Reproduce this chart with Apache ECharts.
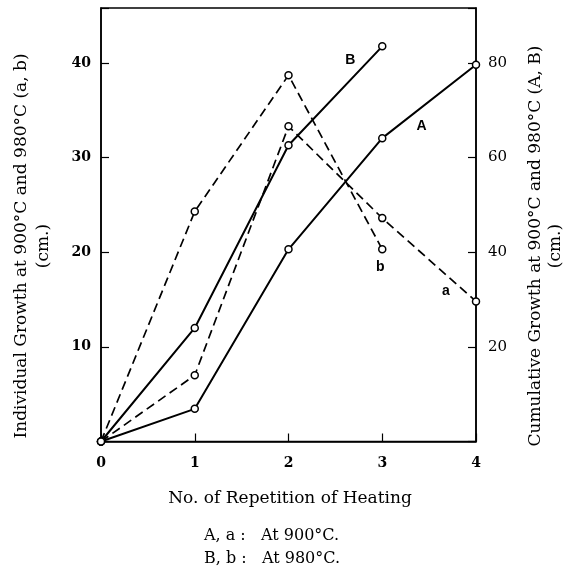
<!DOCTYPE html>
<html>
<head>
<meta charset="utf-8">
<script src="https://cdn.jsdelivr.net/npm/echarts@6/dist/echarts.min.js"></script>
<style>html,body{margin:0;padding:0;background:#fff;}#c{width:576px;height:576px;}</style>
</head>
<body>
<div id="c"></div>
<script>
// Data
var repetitions = [0, 1, 2, 3, 4];
// Individual growth (left axis, cm)
var indiv900_a = [0, 7.0, 33.3, 23.6, 14.8];
var indiv980_b = [0, 24.3, 38.7, 20.3];
// Cumulative growth (right axis, cm)
var cumul900_A = [0, 6.9, 40.6, 64.1, 79.6];
var cumul980_B = [0, 24.0, 62.6, 83.5];
var leftTicks = [10, 20, 30, 40];
var rightTicks = [20, 40, 60, 80];
var leftMax = 45.8, rightMax = 91.6;

function pairs(ys) { return ys.map(function (v, i) { return [repetitions[i], v]; }); }

var serif = 'DejaVu Serif';
var chart = echarts.init(document.getElementById('c'), null, { renderer: 'canvas' });

function lineSeries(name, data, yIdx, dashed, lbl) {
  return {
    name: name, type: 'line', yAxisIndex: yIdx, data: pairs(data),
    symbol: 'circle', symbolSize: 7,
    itemStyle: { color: '#fff', borderColor: '#000', borderWidth: 1.5 },
    lineStyle: { color: '#000', width: dashed ? 1.7 : 2, type: dashed ? [9, 5] : 'solid' },
    animation: false, z: 3,
    markPoint: {
      symbol: 'circle', symbolSize: 0, silent: true,
      label: { show: true, formatter: lbl.text, color: '#000', fontFamily: 'Liberation Sans', fontWeight: 'bold', fontSize: 14, position: 'inside' },
      data: [{ coord: lbl.coord }]
    }
  };
}

var option = {
  backgroundColor: '#fff',
  animation: false,
  grid: { left: 101, right: 100, top: 8, bottom: 134.5, show: true, borderColor: '#000', borderWidth: 1.5 },
  xAxis: {
    type: 'value', min: 0, max: 4, interval: 1,
    axisLine: { show: true, lineStyle: { color: '#000', width: 1.5 } },
    axisTick: { show: true, inside: true, length: 8, lineStyle: { color: '#000', width: 1.2 } },
    axisLabel: { color: '#000', fontFamily: serif, fontWeight: 'bold', fontSize: 14, margin: 15 },
    splitLine: { show: false }
  },
  yAxis: [
    {
      type: 'value', min: 0, max: leftMax, interval: 10, position: 'left',
      axisLine: { show: true, lineStyle: { color: '#000', width: 1.5 } },
      axisTick: { show: true, inside: true, length: 8, lineStyle: { color: '#000', width: 1.2 } },
      axisLabel: { color: '#000', fontFamily: serif, fontWeight: 'bold', fontSize: 14, margin: 10,
        formatter: function (v) { return leftTicks.indexOf(v) >= 0 ? String(v) : ''; } },
      splitLine: { show: false }
    },
    {
      type: 'value', min: 0, max: rightMax, interval: 20, position: 'right',
      axisLine: { show: true, lineStyle: { color: '#000', width: 1.5 } },
      axisTick: { show: true, inside: true, length: 8, lineStyle: { color: '#000', width: 1.2 } },
      axisLabel: { color: '#000', fontFamily: serif, fontSize: 15, margin: 12,
        formatter: function (v) { return rightTicks.indexOf(v) >= 0 ? String(v) : ''; } },
      splitLine: { show: false }
    }
  ],
  series: [
    lineSeries('b', indiv980_b, 0, true, { text: 'b', coord: [2.98, 18.4] }),
    lineSeries('a', indiv900_a, 0, true, { text: 'a', coord: [3.68, 15.9] }),
    lineSeries('B', cumul980_B, 1, false, { text: 'B', coord: [2.66, 80.6] }),
    lineSeries('A', cumul900_A, 1, false, { text: 'A', coord: [3.42, 66.6] })
  ],
  graphic: [
    { type: 'text', x: 33, y: 246, rotation: Math.PI / 2,
      style: { text: 'Individual Growth at 900°C and 980°C (a, b)\n(cm.)', fill: '#000', font: '17px "DejaVu Serif"', textAlign: 'center', textVerticalAlign: 'middle', lineHeight: 22 } },
    { type: 'text', x: 546, y: 246, rotation: Math.PI / 2,
      style: { text: 'Cumulative Growth at 900°C and 980°C (A, B)\n(cm.)', fill: '#000', font: '17px "DejaVu Serif"', textAlign: 'center', textVerticalAlign: 'middle', lineHeight: 20 } },
    { type: 'text', x: 290, y: 499,
      style: { text: 'No. of Repetition of Heating', fill: '#000', font: '17px "DejaVu Serif"', textAlign: 'center', textVerticalAlign: 'middle' } },
    { type: 'text', x: 204, y: 536,
      style: { text: 'A, a :   At 900°C.', fill: '#000', font: '16px "DejaVu Serif"', textAlign: 'left', textVerticalAlign: 'middle' } },
    { type: 'text', x: 204, y: 559,
      style: { text: 'B, b :   At 980°C.', fill: '#000', font: '16px "DejaVu Serif"', textAlign: 'left', textVerticalAlign: 'middle' } }
  ]
};
chart.setOption(option);
</script>
</body>
</html>
